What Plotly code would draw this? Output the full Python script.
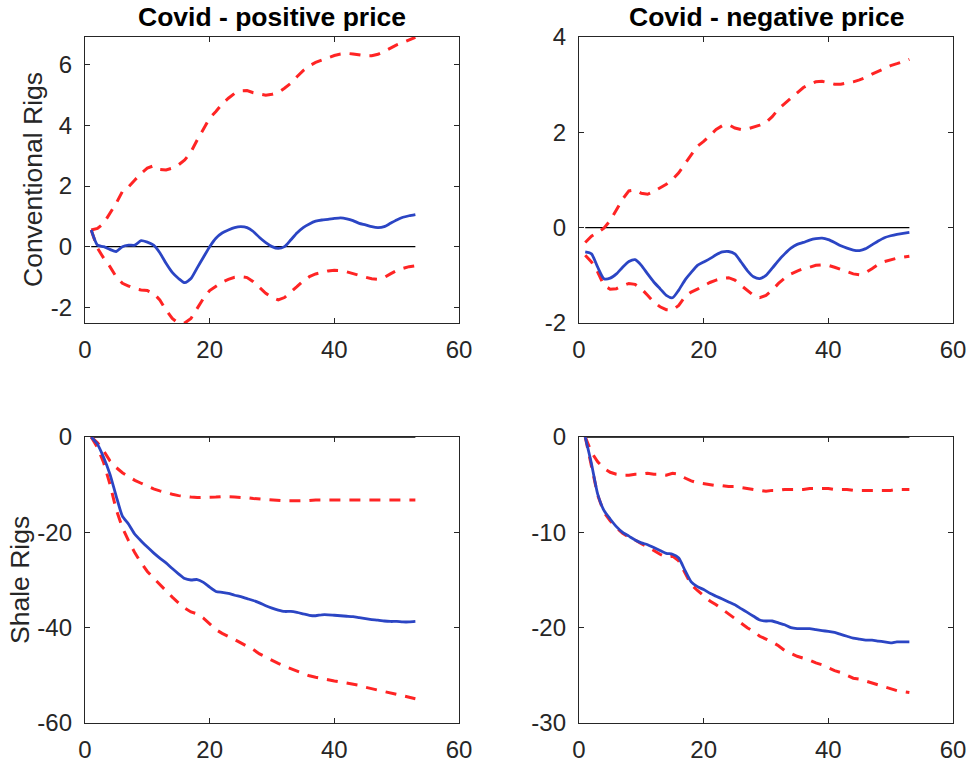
import plotly.graph_objects as go

periods = list(range(1, 54))

# Conventional rigs, positive price shock
conv_pos_mid = [0.55, 0.05, 0.0, -0.09, -0.16, 0.0, 0.05, 0.05, 0.2, 0.15, 0.05, -0.2, -0.55, -0.85, -1.05,
                -1.19, -1.05, -0.7, -0.35, 0.0, 0.28, 0.45, 0.55, 0.63, 0.66, 0.63, 0.5, 0.3, 0.13, 0.0,
                -0.06, 0.0, 0.22, 0.45, 0.63, 0.75, 0.84, 0.88, 0.9, 0.93, 0.95, 0.92, 0.86, 0.77, 0.72,
                0.66, 0.63, 0.66, 0.77, 0.88, 0.97, 1.02, 1.06]
conv_pos_up = [0.55, 0.6, 0.77, 1.1, 1.43, 1.82, 1.98, 2.2, 2.42, 2.59, 2.67, 2.55, 2.53, 2.59, 2.7,
               2.86, 3.13, 3.52, 3.9, 4.24, 4.46, 4.71, 4.9, 5.06, 5.14, 5.15, 5.08, 5.04, 5.0, 5.03,
               5.09, 5.23, 5.39, 5.61, 5.81, 5.97, 6.08, 6.16, 6.24, 6.31, 6.36, 6.38, 6.36, 6.33, 6.3,
               6.3, 6.35, 6.44, 6.55, 6.66, 6.74, 6.82, 6.91]
conv_pos_lo = [0.55, -0.05, -0.38, -0.66, -0.99, -1.21, -1.3, -1.39, -1.43, -1.45, -1.54, -1.76, -2.09, -2.37, -2.53,
               -2.52, -2.37, -2.04, -1.71, -1.45, -1.3, -1.17, -1.08, -1.01, -0.99, -1.02, -1.16, -1.34, -1.54, -1.68,
               -1.76, -1.68, -1.51, -1.32, -1.13, -0.99, -0.9, -0.85, -0.8, -0.78, -0.79, -0.83, -0.88, -0.95, -1.01,
               -1.06, -1.08, -1.02, -0.9, -0.79, -0.72, -0.66, -0.63]

# Conventional rigs, negative price shock
conv_neg_mid = [-0.51, -0.55, -0.83, -1.07, -1.06, -0.97, -0.83, -0.71, -0.67, -0.79, -0.97, -1.14, -1.28, -1.42, -1.47,
                -1.31, -1.1, -0.94, -0.79, -0.72, -0.65, -0.57, -0.51, -0.5, -0.55, -0.72, -0.9, -1.03, -1.07, -1.0,
                -0.85, -0.69, -0.55, -0.43, -0.35, -0.31, -0.26, -0.23, -0.22, -0.25, -0.31, -0.38, -0.43, -0.47, -0.48,
                -0.44, -0.36, -0.28, -0.21, -0.17, -0.14, -0.12, -0.1]
conv_neg_up = [-0.31, -0.18, -0.1, -0.01, 0.15, 0.39, 0.6, 0.77, 0.79, 0.72, 0.7, 0.76, 0.83, 0.91, 1.01,
               1.15, 1.34, 1.53, 1.71, 1.81, 1.93, 2.06, 2.14, 2.16, 2.09, 2.06, 2.07, 2.11, 2.15, 2.21,
               2.33, 2.49, 2.61, 2.72, 2.83, 2.94, 3.01, 3.06, 3.07, 3.04, 3.01, 3.01, 3.03, 3.06, 3.1,
               3.15, 3.22, 3.28, 3.35, 3.4, 3.44, 3.49, 3.53]
conv_neg_lo = [-0.58, -0.72, -0.93, -1.21, -1.29, -1.28, -1.22, -1.17, -1.19, -1.28, -1.42, -1.56, -1.66, -1.72, -1.73,
               -1.63, -1.45, -1.35, -1.29, -1.22, -1.15, -1.1, -1.06, -1.05, -1.1, -1.21, -1.31, -1.42, -1.47, -1.42,
               -1.31, -1.17, -1.06, -0.97, -0.91, -0.86, -0.83, -0.79, -0.78, -0.79, -0.83, -0.88, -0.93, -0.97, -0.99,
               -0.94, -0.86, -0.77, -0.71, -0.67, -0.64, -0.62, -0.6]

# Shale rigs, positive price shock
shale_pos_mid = [0.0, -1.5, -4.3, -7.8, -12.4, -16.6, -18.3, -20.4, -21.8, -23.1, -24.3, -25.4, -26.4, -27.6, -28.7,
                 -29.7, -30.0, -29.9, -30.5, -31.5, -32.4, -32.6, -32.8, -33.2, -33.5, -33.9, -34.3, -34.8, -35.4, -35.9,
                 -36.3, -36.6, -36.6, -36.8, -37.1, -37.4, -37.5, -37.3, -37.3, -37.4, -37.5, -37.6, -37.7, -37.9, -38.1,
                 -38.3, -38.4, -38.6, -38.7, -38.7, -38.8, -38.8, -38.7]
shale_pos_up = [0.0, -1.2, -2.9, -5.0, -6.4, -7.5, -8.3, -9.1, -9.7, -10.3, -10.9, -11.3, -11.7, -12.0, -12.3,
                -12.5, -12.6, -12.7, -12.7, -12.7, -12.6, -12.5, -12.5, -12.6, -12.7, -12.7, -12.9, -13.0, -13.2, -13.3,
                -13.4, -13.4, -13.4, -13.4, -13.3, -13.3, -13.2, -13.2, -13.2, -13.2, -13.2, -13.2, -13.2, -13.2, -13.2,
                -13.2, -13.2, -13.2, -13.2, -13.2, -13.2, -13.2, -13.2]
shale_pos_lo = [0.0, -2.2, -5.4, -9.9, -15.2, -19.0, -21.8, -24.3, -26.4, -28.2, -29.6, -31.0, -32.4, -33.6, -34.8,
                -35.9, -36.7, -37.1, -38.0, -39.2, -40.4, -41.2, -41.8, -42.5, -43.2, -43.9, -44.6, -45.5, -46.2, -46.9,
                -47.5, -48.1, -48.6, -49.2, -49.6, -50.1, -50.4, -50.7, -51.0, -51.2, -51.4, -51.6, -51.8, -52.1, -52.5,
                -52.8, -53.2, -53.5, -53.8, -54.1, -54.3, -54.6, -54.9]

# Shale rigs, negative price shock
shale_neg_mid = [0.0, -2.8, -6.0, -7.7, -8.6, -9.4, -10.0, -10.4, -10.8, -11.1, -11.3, -11.6, -11.9, -12.2, -12.3,
                 -12.7, -14.0, -15.2, -15.7, -16.0, -16.4, -16.7, -17.0, -17.3, -17.6, -18.0, -18.4, -18.8, -19.2, -19.3,
                 -19.3, -19.5, -19.7, -20.0, -20.1, -20.1, -20.1, -20.2, -20.3, -20.4, -20.5, -20.7, -20.9, -21.1, -21.2,
                 -21.3, -21.3, -21.4, -21.5, -21.6, -21.5, -21.5, -21.5]
shale_neg_up = [0.0, -1.6, -2.6, -3.3, -3.7, -3.9, -4.0, -4.0, -3.9, -3.9, -3.8, -3.9, -3.9, -4.0, -3.8,
                -3.9, -4.3, -4.6, -4.8, -4.9, -5.0, -5.1, -5.1, -5.2, -5.2, -5.3, -5.4, -5.5, -5.6, -5.7,
                -5.6, -5.6, -5.5, -5.5, -5.5, -5.5, -5.4, -5.4, -5.4, -5.4, -5.5, -5.5, -5.5, -5.6, -5.6,
                -5.6, -5.6, -5.6, -5.6, -5.6, -5.5, -5.5, -5.5]
shale_neg_lo = [0.0, -3.0, -6.1, -7.9, -8.8, -9.5, -10.1, -10.5, -10.8, -11.2, -11.5, -11.9, -12.3, -12.6, -12.5,
                -13.0, -14.3, -15.5, -16.1, -16.7, -17.2, -17.6, -18.1, -18.5, -19.0, -19.5, -20.0, -20.4, -20.9, -21.2,
                -21.5, -21.9, -22.4, -22.7, -23.0, -23.2, -23.4, -23.7, -23.9, -24.2, -24.5, -24.7, -25.0, -25.3, -25.4,
                -25.6, -25.8, -26.0, -26.2, -26.4, -26.6, -26.7, -26.8]

col_titles = ["Covid - positive price", "Covid - negative price"]
row_labels = ["Conventional Rigs", "Shale Rigs"]
x_ticks = [0, 20, 40, 60]
x_tick_labels = ["0", "20", "40", "60"]
y_ticks = [[-2, 0, 2, 4, 6], [-2, 0, 2, 4], [-60, -40, -20, 0], [-30, -20, -10, 0]]
y_tick_labels = [["-2", "0", "2", "4", "6"], ["-2", "0", "2", "4"],
                 ["-60", "-40", "-20", "0"], ["-30", "-20", "-10", "0"]]
y_ranges = [[-2.52, 6.92], [-2, 4], [-60, 0], [-30, 0]]

panels = [
    (conv_pos_mid, conv_pos_up, conv_pos_lo),
    (conv_neg_mid, conv_neg_up, conv_neg_lo),
    (shale_pos_mid, shale_pos_up, shale_pos_lo),
    (shale_neg_mid, shale_neg_up, shale_neg_lo),
]

W, H = 974, 762
x_doms = [[85 / W, 459 / W], [579 / W, 953 / W]]
y_doms = [[1 - 323 / H, 1 - 37 / H], [1 - 723 / H, 1 - 437 / H]]

BLUE = "#2b45c4"
RED = "#ff2424"
AX = "#262626"
FONT = "Liberation Sans, Arial, sans-serif"

fig = go.Figure()
layout = dict(
    width=W, height=H, margin=dict(l=0, r=0, t=0, b=0, autoexpand=False),
    paper_bgcolor="white", plot_bgcolor="white", showlegend=False,
    font=dict(family=FONT, color=AX, size=24),
)

for i, (mid, up, lo) in enumerate(panels):
    r, c = divmod(i, 2)
    n = i + 1
    xa = "x" if n == 1 else f"x{n}"
    ya = "y" if n == 1 else f"y{n}"
    fig.add_trace(go.Scatter(x=[periods[0], periods[-1]], y=[0, 0], mode="lines",
                             line=dict(color="black", width=1.3), xaxis=xa, yaxis=ya, hoverinfo="skip"))
    fig.add_trace(go.Scatter(x=periods, y=up, mode="lines", line=dict(color=RED, width=3, dash="11px,9px"),
                             xaxis=xa, yaxis=ya))
    fig.add_trace(go.Scatter(x=periods, y=lo, mode="lines", line=dict(color=RED, width=3, dash="11px,9px"),
                             xaxis=xa, yaxis=ya))
    fig.add_trace(go.Scatter(x=periods, y=mid, mode="lines", line=dict(color=BLUE, width=2.8, shape="spline",
                                                                       smoothing=0.6),
                             xaxis=xa, yaxis=ya))
    axkey = "" if n == 1 else str(n)
    layout[f"xaxis{axkey}"] = dict(
        domain=x_doms[c], anchor=ya, range=[0, 60], tickvals=x_ticks, ticktext=x_tick_labels,
        ticks="inside", ticklen=5, automargin=False,
        tickcolor=AX, showline=True, linecolor=AX, linewidth=1.3, mirror="ticks", showgrid=False,
        zeroline=False, ticklabelstandoff=5, tickfont=dict(size=24, color=AX),
    )
    layout[f"yaxis{axkey}"] = dict(
        domain=y_doms[r], anchor=xa, range=y_ranges[i], tickvals=y_ticks[i], ticktext=y_tick_labels[i],
        ticks="inside", ticklen=5, automargin=False,
        tickcolor=AX, showline=True, linecolor=AX, linewidth=1.3, mirror="ticks", showgrid=False,
        zeroline=False, ticklabelstandoff=7, tickfont=dict(size=24, color=AX),
    )

annotations = []
for c, t in enumerate(col_titles):
    annotations.append(dict(text=f"<b>{t}</b>", x=sum(x_doms[c]) / 2, y=1 - 34 / H,
                            xref="paper", yref="paper",
                            xanchor="center", yanchor="bottom", showarrow=False,
                            font=dict(family=FONT, size=26.5, color="black")))
label_x = [33 / W, 20 / W]
for r, t in enumerate(row_labels):
    annotations.append(dict(text=t, x=label_x[r], y=sum(y_doms[r]) / 2, xref="paper", yref="paper",
                            xanchor="center", yanchor="middle", textangle=-90, showarrow=False,
                            font=dict(family=FONT, size=26.5, color=AX)))
layout["annotations"] = annotations

fig.update_layout(**layout)
fig.write_html("out.html", config={"displayModeBar": False},
               post_script="document.body.style.margin='0';document.body.style.overflow='hidden';")
